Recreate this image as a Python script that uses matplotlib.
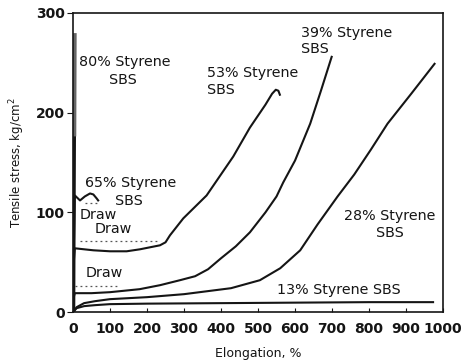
import matplotlib.pyplot as plt

plt.rcParams["font.family"] = ["DejaVu Sans"]

# curves (elongation %, tensile stress kg/cm2)
x_80 = [2, 3, 4, 5]
y_80 = [0, 100, 178, 278]

x_65 = [0, 2, 5, 19, 32, 46, 55, 64, 68]
y_65 = [0, 60, 117, 112, 116, 119, 118, 114, 112]

x_53 = [0, 2, 5, 30, 55, 100, 145, 181, 208, 235, 250, 262, 298, 361, 433,
        478, 520, 538, 548, 555, 559]
y_53 = [0, 50, 64, 63, 62, 61, 61, 63, 65, 67, 70, 77, 94, 117, 156,
        185, 208, 219, 223, 222, 218]

x_39 = [0, 2, 5, 50, 100, 180, 235, 289, 330, 365, 400, 440, 478, 520, 550, 568,
        600, 641, 670, 699]
y_39 = [0, 15, 19, 19, 20, 23, 27, 32, 36, 43, 54, 66, 80, 100, 116, 130,
        152, 189, 222, 256]

x_28 = [0, 10, 30, 60, 100, 200, 300, 427, 505, 560, 614, 661, 715, 760,
        805, 850, 914, 977]
y_28 = [0, 5, 9, 11, 13, 15, 18, 24, 32, 44, 62, 88, 116, 138,
        163, 189, 219, 249]

x_13 = [0, 10, 30, 60, 100, 200, 400, 600, 800, 973]
y_13 = [0, 4, 6, 7, 8, 8.5, 9, 9.5, 10, 10]

# faint dotted draw marks
draw_65_x = [32, 73]
draw_65_y = [109, 109]
draw_53_x = [19, 235]
draw_53_y = [71, 71]
draw_39_x = [5, 127]
draw_39_y = [26, 26]

xticks = list(range(0, 1001, 100))
yticks = [0, 100, 200, 300]

ink = "#151515"

fig = plt.figure(figsize=(4.62, 3.6), dpi=100)
ax = fig.add_axes([0.158, 0.133, 0.801, 0.831])

ax.plot(x_80[:3], y_80[:3], color=ink, lw=2.2)
ax.plot(x_80[2:], y_80[2:], color="#666666", lw=2.6)
ax.plot(x_65, y_65, color=ink, lw=1.5)
ax.plot(x_53, y_53, color=ink, lw=1.5)
ax.plot(x_39, y_39, color=ink, lw=1.5)
ax.plot(x_28, y_28, color=ink, lw=1.5)
ax.plot(x_13, y_13, color=ink, lw=1.5)

for dx, dy in [(draw_65_x, draw_65_y), (draw_53_x, draw_53_y), (draw_39_x, draw_39_y)]:
    ax.plot(dx, dy, color="#555555", lw=0.9, ls=(0, (1.5, 2.5)))

# labels
fs = 10.3
ax.text(140, 251, "80% Styrene", ha="center", va="center", fontsize=fs, color=ink)
ax.text(135, 233, "SBS", ha="center", va="center", fontsize=fs, color=ink)
ax.text(362, 240, "53% Styrene", ha="left", va="center", fontsize=fs, color=ink)
ax.text(362, 223, "SBS", ha="left", va="center", fontsize=fs, color=ink)
ax.text(616, 280, "39% Styrene", ha="left", va="center", fontsize=fs, color=ink)
ax.text(616, 264, "SBS", ha="left", va="center", fontsize=fs, color=ink)
ax.text(155, 129, "65% Styrene", ha="center", va="center", fontsize=fs, color=ink)
ax.text(150, 111, "SBS", ha="center", va="center", fontsize=fs, color=ink)
ax.text(19, 97, "Draw", ha="left", va="center", fontsize=fs, color=ink)
ax.text(59, 83, "Draw", ha="left", va="center", fontsize=fs, color=ink)
ax.text(35, 39, "Draw", ha="left", va="center", fontsize=fs, color=ink)
ax.text(857, 96, "28% Styrene", ha="center", va="center", fontsize=fs, color=ink)
ax.text(857, 79, "SBS", ha="center", va="center", fontsize=fs, color=ink)
ax.text(719, 22, "13% Styrene SBS", ha="center", va="center", fontsize=fs, color=ink)

ax.set_xlim(0, 1000)
ax.set_ylim(0, 300)
ax.set_xticks(xticks)
ax.set_yticks(yticks)
ax.tick_params(axis="x", direction="in", length=3, labelsize=10, pad=7, colors=ink)
ax.tick_params(axis="y", direction="out", length=4, labelsize=10, pad=2, colors=ink)
for lab in ax.get_xticklabels() + ax.get_yticklabels():
    lab.set_fontweight("bold")
for s in ax.spines.values():
    s.set_linewidth(1.2)
    s.set_color(ink)

ax.set_xlabel("Elongation, %", fontsize=9, labelpad=8, color=ink)
ax.set_ylabel("Tensile stress, kg/cm$^2$", fontsize=8.5, labelpad=6, color=ink)

plt.savefig("out.png", dpi=100)
